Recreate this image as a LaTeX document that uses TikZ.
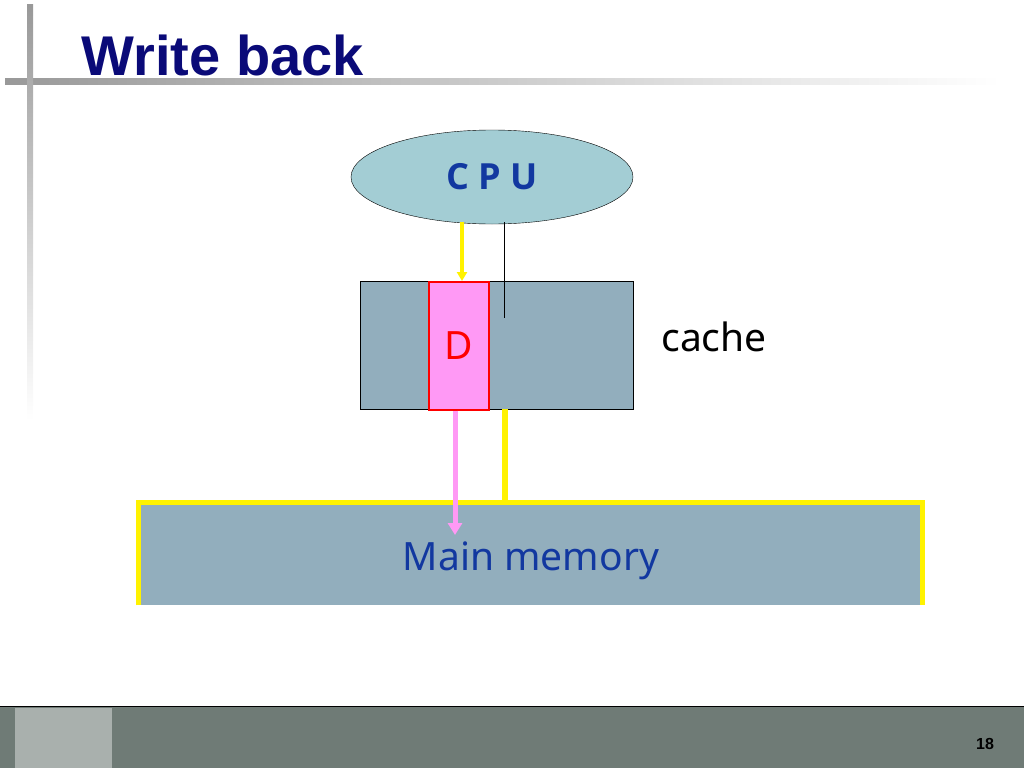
\documentclass[tikz,border=0pt]{standalone}
\usepackage{fontspec}
\setmainfont{Liberation Sans}
\newfontfamily\notofont{Noto Sans}
\newfontfamily\boldfont{Open Sans}
\usetikzlibrary{shapes.geometric,arrows.meta}
\definecolor{boxblue}{HTML}{92AEBD}
\definecolor{cpufill}{HTML}{A3CDD4}
\definecolor{dpink}{HTML}{FF99F5}
\definecolor{titleblue}{HTML}{0A0A78}
\definecolor{textblue}{HTML}{1238A0}
\definecolor{footgray}{HTML}{6F7B76}
\tikzset{
  block/.style={draw=black, fill=boxblue, line width=0.6pt},
  label/.style={font=\notofont\fontsize{39}{42}\selectfont}
}
\begin{document}
\begin{tikzpicture}[x=1pt,y=-1pt]
  \useasboundingbox (0,0) rectangle (1024,768);
  % slide frame
  \shade[left color=gray!80, right color=white] (5,78) rectangle (1000,84);
  \shade[top color=gray!80, bottom color=white] (27,5) rectangle (33,420);
  \node[anchor=base west, text=titleblue, font=\bfseries\fontsize{56}{60}\selectfont] (title) at (78,75) {Write back};
  % footer
  \fill[footgray] (0,706) rectangle (1024,768);
  \fill[footgray!60!white] (15,708) rectangle (112,768);
  \draw[black, line width=1pt] (0,706) -- (1024,706);
  \node[font=\bfseries\fontsize{16}{18}\selectfont] (page) at (985,744) {18};
  % diagram
  \node[ellipse, draw=black, fill=cpufill, minimum width=282, minimum height=94, inner sep=0pt,
        text=textblue, font=\boldfont\bfseries\fontsize{36}{38}\selectfont] (cpu) at (492,177) {C P U};
  \node[block, anchor=north west, minimum width=273, minimum height=128, inner sep=0pt] (cache) at (360,281) {};
  \node[draw=red, line width=1.5pt, fill=dpink, anchor=north west, minimum width=60, minimum height=128,
        inner sep=0pt, text=red, label] (dirty) at (428,281) {D};
  \node[label, anchor=base] (cachelbl) at (714,351) {cache};
  \node[fill=boxblue, anchor=north west, minimum width=784, minimum height=103, inner sep=0pt] (mem) at (138,502) {};
  \node[label, text=textblue, anchor=base] (memlbl) at (531,570) {Main memory};
  \draw[yellow, line width=5pt] (mem.south west) -- (mem.north west) -- (mem.north east) -- (mem.south east);
  \coordinate (wtop) at (462,222);
  \coordinate (lineA) at (504,222);
  \coordinate (lineB) at (504,318);
  \coordinate (ybot) at (505,409);
  \coordinate (ptip) at (455,535);
  \draw[yellow, line width=3.5pt, -{Triangle[length=9pt,width=10pt]}] (wtop) -- (dirty.north -| wtop);
  \draw[black, line width=0.6pt] (lineA) -- (lineB);
  \draw[yellow, line width=6pt] (ybot) -- (ybot |- mem.north);
  \draw[dpink, line width=5pt, -{Triangle[length=12pt,width=14pt]}] (dirty.south -| ptip) -- (ptip);
\end{tikzpicture}
\end{document}
